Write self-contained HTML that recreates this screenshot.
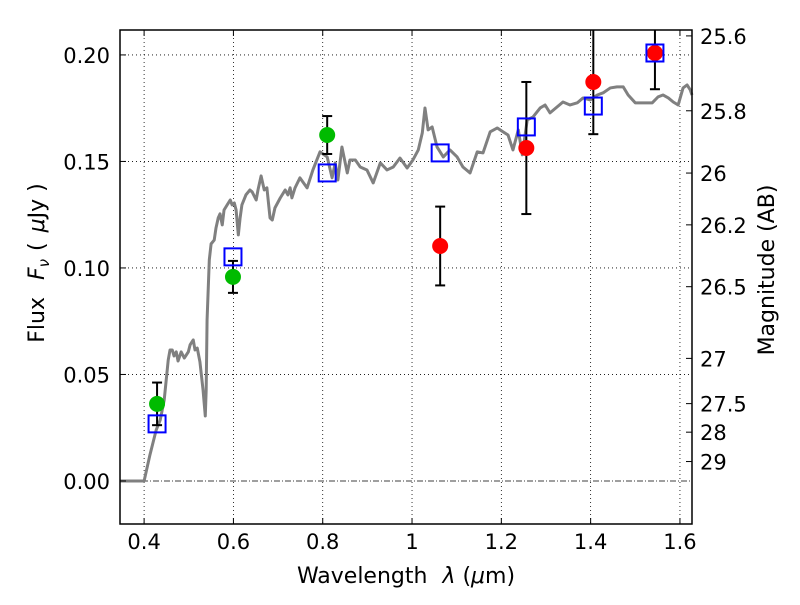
<!DOCTYPE html>
<html><head><meta charset="utf-8"><style>
body{margin:0;background:#fff}
svg{font-family:"DejaVu Sans","Liberation Sans",sans-serif}
</style></head><body>
<svg id="chart" width="800" height="600" viewBox="0 0 800 600"></svg>
<script>
const specLam=[0.346,0.400,0.413,0.427,0.436,0.445,0.454,0.458,0.463,0.467,0.472,0.476,0.483,0.490,0.499,0.503,0.510,0.514,0.519,0.525,0.532,0.537,0.539,0.541,0.546,0.550,0.557,0.561,0.566,0.570,0.575,0.579,0.586,0.593,0.597,0.602,0.606,0.611,0.615,0.619,0.628,0.637,0.642,0.651,0.655,0.662,0.669,0.675,0.682,0.687,0.693,0.705,0.716,0.722,0.727,0.731,0.738,
0.749,0.765,0.778,0.794,0.810,0.821,0.828,0.834,0.843,0.855,0.861,0.873,0.884,0.899,0.913,0.929,0.944,0.958,0.973,0.989,1.002,1.014,1.023,1.029,1.036,1.045,1.056,1.070,1.085,1.101,1.114,1.130,1.146,1.159,1.175,1.191,1.204,1.215,1.226,1.238,1.247,1.258,1.271,1.287,1.298,1.309,1.325,1.338,1.354,1.370,1.383,1.399,1.415,1.428,1.444,1.459,1.473,1.484,1.500,1.518,1.538,1.551,1.562,1.574,1.585,1.596,1.607,1.616,1.623,1.627];
const specFlux=[0,0,0.0122,0.0239,0.0286,0.038,0.0568,0.0615,0.0615,0.0587,0.0606,0.0563,0.0606,0.0577,0.0606,0.0639,0.0662,0.0615,0.0624,0.0559,0.0427,0.0305,0.0427,0.0756,0.1038,0.1113,0.1131,0.1188,0.1235,0.1254,0.1202,0.1272,0.1296,0.1319,0.1296,0.1305,0.1272,0.1155,0.1235,0.1296,0.1343,0.1366,0.1357,0.1319,0.1366,0.1432,0.1366,0.1376,0.1235,0.1225,0.1282,0.1329,0.1366,0.1343,0.1376,0.1329,0.1376,
0.1423,0.1376,0.146,0.1545,0.1521,0.1423,0.1493,0.1413,0.1568,0.1446,0.1507,0.1507,0.1474,0.146,0.1399,0.1493,0.146,0.1474,0.1516,0.1469,0.1507,0.1554,0.1634,0.1751,0.1648,0.1662,0.1568,0.1521,0.1554,0.1521,0.1474,0.1446,0.1545,0.154,0.1639,0.1657,0.1639,0.1624,0.1554,0.1648,0.1531,0.1695,0.1709,0.1751,0.1765,0.1728,0.1756,0.1779,0.1765,0.1775,0.1798,0.1789,0.1812,0.1822,0.1845,0.185,0.185,0.1812,0.1775,0.1775,0.1775,0.1803,0.1812,0.1798,0.1779,0.1765,0.1845,0.1859,0.1836,0.1812];
const greenLam=[0.429,0.599,0.810];
const greenFlux=[0.0362,0.0958,0.1624];
const greenErr=[0.0100,0.0075,0.0089];
const redLam=[1.063,1.256,1.406,1.544];
const redFlux=[0.1103,0.1563,0.1873,0.2009];
const redErr=[0.0185,0.031,0.0245,0.017];
const modelLam=[0.429,0.599,0.810,1.063,1.256,1.406,1.544];
const modelFlux=[0.0268,0.1052,0.1446,0.154,0.1662,0.176,0.2009];
const xTicks=[0.4,0.6,0.8,1.0,1.2,1.4,1.6];
const xTickLabels=["0.4","0.6","0.8","1","1.2","1.4","1.6"];
const yTicks=[0,0.05,0.10,0.15,0.20];
const yTickLabels=["0.00","0.05","0.10","0.15","0.20"];
const magTicks=[25.6,25.8,26,26.2,26.5,27,27.5,28,29];
const magLabels=["25.6","25.8","26","26.2","26.5","27","27.5","28","29"];

const L=120,R=692,T=30,B=524,X0=0.346,X1=1.627,Y0=-0.0202,Y1=0.2117;
const sx=v=>L+(v-X0)/(X1-X0)*(R-L);
const sy=v=>B-(v-Y0)/(Y1-Y0)*(B-T);
const svg=document.getElementById('chart');
const NS='http://www.w3.org/2000/svg';
function mk(tag,attrs,parent){const e=document.createElementNS(NS,tag);for(const k in attrs)e.setAttribute(k,attrs[k]);(parent||svg).appendChild(e);return e;}

const grid=mk('g',{});


xTicks.forEach(t=>{mk('line',{x1:sx(t),x2:sx(t),y1:T,y2:B,stroke:'#000','stroke-width':0.8,'stroke-dasharray':'1,3'},grid);});
yTicks.forEach(t=>{mk('line',{x1:L,x2:R,y1:sy(t),y2:sy(t),stroke:'#000','stroke-width':0.8,'stroke-dasharray':t===0?'6,2,1,2':'1,3'},grid);});

const spec=mk('polyline',{points:specLam.map((l,i)=>sx(l)+','+sy(specFlux[i])).join(' '),fill:'none',stroke:'#808080','stroke-width':3,'stroke-linejoin':'round'});



function errbar(lam,f,e,name){
  const g=mk('g',{});
  
  
  const x=sx(lam),y1=Math.max(sy(f+e),T),y2=sy(f-e);
  mk('line',{x1:x,x2:x,y1:y1,y2:y2,stroke:'#000','stroke-width':2},g);
  if(sy(f+e)>=T)mk('line',{x1:x-5,x2:x+5,y1:y1,y2:y1,stroke:'#000','stroke-width':2},g);
  mk('line',{x1:x-5,x2:x+5,y1:y2,y2:y2,stroke:'#000','stroke-width':2},g);
}
greenLam.forEach((l,i)=>errbar(l,greenFlux[i],greenErr[i],'green-errorbar'));
redLam.forEach((l,i)=>errbar(l,redFlux[i],redErr[i],'red-errorbar'));
greenLam.forEach((l,i)=>{const c=mk('circle',{cx:sx(l),cy:sy(greenFlux[i]),r:8,fill:'#00bb00'});
  
  });
redLam.forEach((l,i)=>{const c=mk('circle',{cx:sx(l),cy:sy(redFlux[i]),r:8,fill:'#ff0000'});
  
  });
modelLam.forEach((l,i)=>{const r=mk('rect',{x:sx(l)-8.5,y:sy(modelFlux[i])-8.5,width:17,height:17,fill:'none',stroke:'#0000ff','stroke-width':2});
  
  });

const frame=mk('rect',{x:L,y:T,width:R-L,height:B-T,fill:'none',stroke:'#000','stroke-width':1.5});



xTicks.forEach((t,i)=>{mk('line',{x1:sx(t),x2:sx(t),y1:B,y2:B-6,stroke:'#000'});mk('line',{x1:sx(t),x2:sx(t),y1:T,y2:T+6,stroke:'#000'});
  const tx=mk('text',{x:sx(t),y:B+25,'font-size':21,'text-anchor':'middle'});tx.textContent=xTickLabels[i];
  
  });
yTicks.forEach((t,i)=>{mk('line',{x1:L,x2:L+6,y1:sy(t),y2:sy(t),stroke:'#000'});
  const tx=mk('text',{x:L-10,y:sy(t)+8,'font-size':21,'text-anchor':'end'});tx.textContent=yTickLabels[i];
  
  });
magTicks.forEach((m,i)=>{const y=sy(Math.pow(10,(23.9-m)/2.5));mk('line',{x1:R,x2:R-6,y1:y,y2:y,stroke:'#000'});
  const tx=mk('text',{x:R+8,y:y+8,'font-size':21});tx.textContent=magLabels[i];
  
  });
</script>
<svg width="800" height="600" style="position:absolute;left:0;top:0">
<text x="406" y="583" font-size="22" text-anchor="middle" font-family="DejaVu Sans,sans-serif">Wavelength <tspan dx="8" font-style="italic">λ</tspan> (<tspan font-style="italic">μ</tspan>m)</text>
<text transform="translate(44,263) rotate(-90)" font-size="22" text-anchor="middle" font-family="DejaVu Sans,sans-serif">Flux <tspan dx="10" font-style="italic">F</tspan><tspan font-style="italic" font-size="15" dy="5">ν</tspan><tspan dy="-5" dx="8">(</tspan><tspan dx="10" font-style="italic">μ</tspan>Jy )</text>
<text transform="translate(774,270) rotate(-90)" font-size="22" text-anchor="middle" font-family="DejaVu Sans,sans-serif">Magnitude (AB)</text>
</svg>
</body></html>
